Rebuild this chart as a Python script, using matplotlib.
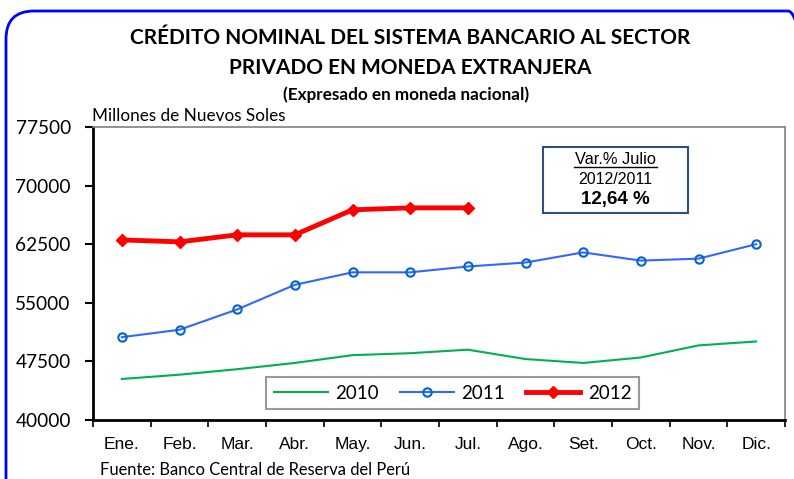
import matplotlib.pyplot as plt
from matplotlib.patches import FancyBboxPatch, Rectangle
from matplotlib.lines import Line2D
from matplotlib.transforms import IdentityTransform

# data (millones de nuevos soles)
meses = ["Ene.", "Feb.", "Mar.", "Abr.", "May.", "Jun.", "Jul.",
         "Ago.", "Set.", "Oct.", "Nov.", "Dic."]
v2010 = [45250, 45800, 46500, 47300, 48300, 48550, 49000,
         47800, 47300, 48000, 49550, 50050]
v2011 = [50600, 51550, 54150, 57300, 58900, 58900, 59650,
         60150, 61450, 60400, 60650, 62500]
v2012 = [63050, 62800, 63700, 63700, 66900, 67150, 67150]
yticks = [40000, 47500, 55000, 62500, 70000, 77500]

plt.rcParams['font.family'] = ['Lato', 'DejaVu Sans']
ARIAL = ['Liberation Sans', 'DejaVu Sans']

W, H = 794, 479
fig = plt.figure(figsize=(W / 100, H / 100), dpi=100)
fig.patch.set_facecolor("white")

# marco azul redondeado (en pixeles), el borde derecho queda fuera
marco = FancyBboxPatch((6, -40), 810, H - 11 + 40,
                       boxstyle="round,pad=0,rounding_size=28",
                       transform=IdentityTransform(), fill=False,
                       edgecolor="#0000FF", linewidth=2, clip_on=False)
fig.patches.append(marco)

ax = fig.add_axes([93 / W, 1 - 420 / H, (785 - 93) / W, (420 - 127) / H])

x = list(range(len(meses)))
ax.plot(x, v2010, color="#00B050", linewidth=1.5, label="2010")
ax.plot(x, v2011, color="#3366FF", linewidth=1.5, marker="o", markersize=6,
        markerfacecolor="none", markeredgecolor="#0066CC", markeredgewidth=1.5,
        label="2011")
ax.plot(x[:len(v2012)], v2012, color="#FF0000", linewidth=3.5, marker="D",
        markersize=6, label="2012")

ax.set_xlim(-0.5, len(meses) - 0.5)
ax.set_ylim(yticks[0], yticks[-1])
ax.set_yticks(yticks)
ax.set_yticklabels([str(t) for t in yticks], fontsize=13.7)
ax.set_xticks([i - 0.5 for i in range(len(meses) + 1)])
ax.set_xticklabels([])
ax.set_xticks(x, minor=True)
ax.set_xticklabels(meses, minor=True, fontsize=12.5, family=ARIAL)
ax.tick_params(axis="x", which="minor", length=0, pad=12)
ax.tick_params(axis="x", which="major", length=5, width=1.2, direction="out")
ax.tick_params(axis="y", length=6, width=1.5, direction="out", pad=10)

for s in ["top", "right"]:
    ax.spines[s].set_color("#808080")
    ax.spines[s].set_linewidth(1.2)
for s in ["left", "bottom"]:
    ax.spines[s].set_color("black")
    ax.spines[s].set_linewidth(2)

leg = ax.legend(loc="center", bbox_to_anchor=(0.5195, 0.092), ncol=3,
                fontsize=13.5, frameon=True, fancybox=False, handlelength=2.9,
                columnspacing=1.1, handletextpad=0.4, borderpad=0.4)
leg.get_frame().set_edgecolor("#808080")
leg.get_frame().set_linewidth(1.5)

# recuadro de variacion
ax.add_patch(Rectangle((0.650, 0.7065), 0.210, 0.2255, transform=ax.transAxes,
                       fill=False, edgecolor="#2F4F7F", linewidth=1.5))
ax.text(0.755, 0.890, "Var.% Julio", transform=ax.transAxes, ha="center",
        va="center", fontsize=11.8, family=ARIAL)
ax.add_line(Line2D([0.6955, 0.8146], [0.864, 0.864], transform=ax.transAxes,
                   color="black", linewidth=1))
ax.text(0.755, 0.8225, "2012/2011", transform=ax.transAxes, ha="center",
        va="center", fontsize=11.5, family=ARIAL)
ax.text(0.755, 0.754, "12,64 %", transform=ax.transAxes, ha="center",
        va="center", fontsize=13.5, fontweight="bold", family=ARIAL)

# titulos
fig.text(410 / W, 1 - 38 / H, "CRÉDITO NOMINAL DEL SISTEMA BANCARIO AL SECTOR",
         ha="center", va="center", fontsize=15, fontweight="bold")
fig.text(410 / W, 1 - 68 / H, "PRIVADO EN MONEDA EXTRANJERA",
         ha="center", va="center", fontsize=15, fontweight="bold")
fig.text(406 / W, 1 - 95 / H, "(Expresado en moneda nacional)",
         ha="center", va="center", fontsize=12.3, fontweight="bold")
fig.text(92 / W, 1 - 116 / H, "Millones de Nuevos Soles",
         ha="left", va="center", fontsize=12.3)
fig.text(100 / W, 1 - 470 / H, "Fuente: Banco Central de Reserva del Perú",
         ha="left", va="center", fontsize=11.9)

fig.savefig("out.png", dpi=100, facecolor="white")
